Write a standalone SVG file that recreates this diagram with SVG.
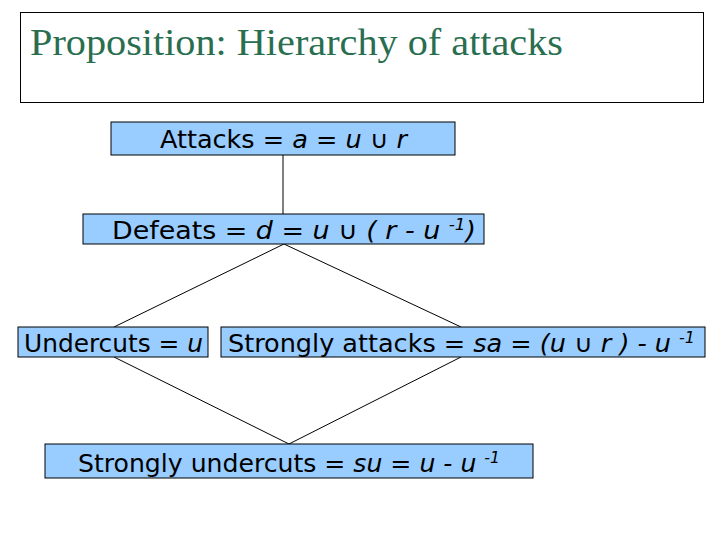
<svg xmlns="http://www.w3.org/2000/svg" width="720" height="540" viewBox="0 0 720 540">
<style>
.box{fill:#99ccff;stroke:#000;stroke-width:1}
.t{font-family:"DejaVu Sans Condensed","DejaVu Sans",sans-serif;font-size:24px;fill:#000}
.i{font-style:italic}
.s{font-size:15px}
line{stroke:#000;stroke-width:1}
</style>
<rect width="720" height="540" fill="#fff"/>
<g id="title">
<rect x="20.5" y="12.5" width="683" height="90" fill="#fff" stroke="#000"/>
<text x="30" y="55" font-family="Liberation Serif,serif" font-size="38" fill="#2a6e50" textLength="533" lengthAdjust="spacingAndGlyphs">Proposition: Hierarchy of attacks</text>
</g>
<g id="connectors">
<line x1="283" y1="155" x2="283" y2="214"/>
<line x1="284" y1="244" x2="114" y2="327"/>
<line x1="284" y1="244" x2="461" y2="327"/>
<line x1="114" y1="357" x2="289" y2="444"/>
<line x1="461" y1="357" x2="289" y2="444"/>
</g>
<g id="attacks">
<rect class="box" x="111" y="122" width="344" height="33"/>
<text class="t" x="160" y="148" textLength="247" lengthAdjust="spacingAndGlyphs">Attacks = <tspan class="i">a = u ∪ r</tspan></text>
</g>
<g id="defeats">
<rect class="box" x="83" y="214" width="401" height="30"/>
<text class="t" x="112" y="239" textLength="364" lengthAdjust="spacingAndGlyphs">Defeats = <tspan class="i">d = u ∪ ( r - u <tspan class="s" dy="-9">-1</tspan><tspan dy="9">)</tspan></tspan></text>
</g>
<g id="undercuts">
<rect class="box" x="18" y="327" width="190" height="30"/>
<text class="t" x="24" y="352" textLength="179" lengthAdjust="spacingAndGlyphs">Undercuts = <tspan class="i">u</tspan></text>
</g>
<g id="strongly-attacks">
<rect class="box" x="221" y="327" width="484" height="30"/>
<text class="t" x="228" y="352" textLength="467" lengthAdjust="spacingAndGlyphs">Strongly attacks = <tspan class="i">sa = (u ∪ r ) - u <tspan class="s" dy="-9">-1</tspan></tspan></text>
</g>
<g id="strongly-undercuts">
<rect class="box" x="45" y="444" width="488" height="34"/>
<text class="t" x="78" y="472" textLength="422" lengthAdjust="spacingAndGlyphs">Strongly undercuts = <tspan class="i">su = u - u <tspan class="s" dy="-9">-1</tspan></tspan></text>
</g>
</svg>
